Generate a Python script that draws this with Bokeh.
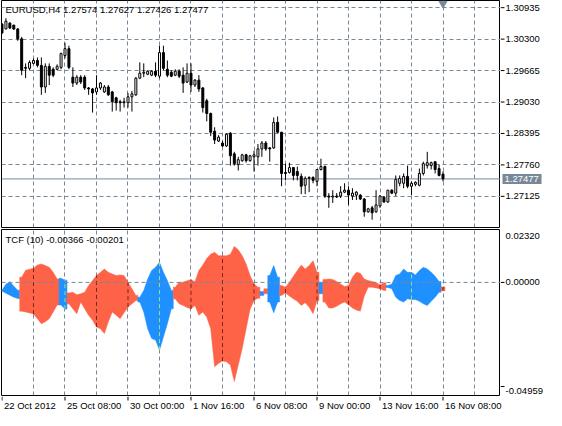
import numpy as np
from bokeh.plotting import figure
from bokeh.layouts import column, row
from bokeh.models import Range1d, FixedTicker, Label, Span, Grid, ColumnDataSource
from bokeh.core.properties import value
from bokeh.embed import file_html
from bokeh.resources import INLINE

# ---------------- data ----------------
symbol_title = "EURUSD,H4 1.27574 1.27627 1.27426 1.27477"
tcf_title = "TCF (10) -0.00366 -0.00201"

opens = [1.30603, 1.30504, 1.30623, 1.30584, 1.30504, 1.30306, 1.29730, 1.29710, 1.29810, 1.29869,
         1.29770, 1.29333, 1.29750, 1.29691, 1.29691, 1.29730, 1.29968, 1.30107, 1.29532, 1.29413,
         1.29532, 1.29532, 1.29314, 1.29294, 1.29234, 1.29314, 1.29234, 1.29333, 1.29234, 1.29115,
         1.29036, 1.29016, 1.29016, 1.29135, 1.29175, 1.29512, 1.29611, 1.29591, 1.29572, 1.29651,
         1.29552, 1.30028, 1.29691, 1.29631, 1.29572, 1.29651, 1.29572, 1.29433, 1.29611, 1.29373,
         1.29472, 1.29314, 1.29056, 1.28798, 1.28440, 1.28242, 1.28202, 1.28143, 1.28401, 1.27984,
         1.27766, 1.27845, 1.27964, 1.27845, 1.27924, 1.27924, 1.28083, 1.28202, 1.28103, 1.28103,
         1.28619, 1.28421, 1.27607, 1.27607, 1.27706, 1.27627, 1.27528, 1.27349, 1.27488, 1.27508,
         1.27428, 1.27667, 1.27726, 1.27131, 1.27111, 1.27131, 1.27131, 1.27210, 1.27250, 1.27131,
         1.27151, 1.27151, 1.27071, 1.26813, 1.26893, 1.26813, 1.26932, 1.27111, 1.27012, 1.27250,
         1.27190, 1.27389, 1.27389, 1.27528, 1.27329, 1.27369, 1.27349, 1.27587, 1.27746, 1.27746,
         1.27825, 1.27686, 1.27574]
highs = [1.30623, 1.30722, 1.30643, 1.30584, 1.30524, 1.30345, 1.29810, 1.29869, 1.29909, 1.29929,
         1.29929, 1.29810, 1.29810, 1.29730, 1.29790, 1.30028, 1.30226, 1.30167, 1.29730, 1.29572,
         1.29572, 1.29572, 1.29333, 1.29314, 1.29572, 1.29433, 1.29373, 1.29373, 1.29254, 1.29135,
         1.29075, 1.29115, 1.29214, 1.29254, 1.29532, 1.29830, 1.29810, 1.29671, 1.29671, 1.29830,
         1.30167, 1.30167, 1.29869, 1.29671, 1.29691, 1.29691, 1.29730, 1.29810, 1.29810, 1.29492,
         1.29572, 1.29333, 1.29095, 1.28817, 1.28520, 1.28361, 1.28242, 1.28401, 1.28421, 1.28024,
         1.27924, 1.27984, 1.27984, 1.27964, 1.28044, 1.28182, 1.28242, 1.28242, 1.28123, 1.28718,
         1.28738, 1.28421, 1.27786, 1.27805, 1.27706, 1.27726, 1.27587, 1.27528, 1.27528, 1.27528,
         1.27667, 1.27885, 1.27746, 1.27190, 1.27250, 1.27190, 1.27329, 1.27389, 1.27329, 1.27289,
         1.27230, 1.27170, 1.27091, 1.26893, 1.26932, 1.27250, 1.27151, 1.27131, 1.27250, 1.27270,
         1.27547, 1.27547, 1.27587, 1.27746, 1.27428, 1.27428, 1.27686, 1.27825, 1.28024, 1.27825,
         1.27825, 1.27766, 1.27627]
lows = [1.30405, 1.30504, 1.30504, 1.30484, 1.30266, 1.29572, 1.29512, 1.29671, 1.29790, 1.29730,
        1.29175, 1.29214, 1.29373, 1.29532, 1.29671, 1.29691, 1.29909, 1.29691, 1.29333, 1.29373,
        1.29393, 1.29274, 1.29175, 1.28817, 1.29175, 1.29274, 1.29214, 1.29155, 1.28837, 1.28857,
        1.28837, 1.28917, 1.28917, 1.28837, 1.29155, 1.29492, 1.29532, 1.29572, 1.29552, 1.29532,
        1.29512, 1.29671, 1.29532, 1.29532, 1.29552, 1.29512, 1.29214, 1.29413, 1.29234, 1.29333,
        1.29234, 1.28817, 1.28639, 1.28341, 1.28182, 1.28222, 1.28123, 1.28123, 1.27746, 1.27746,
        1.27647, 1.27825, 1.27805, 1.27825, 1.27627, 1.27746, 1.27924, 1.28044, 1.27825, 1.28083,
        1.28401, 1.27329, 1.27448, 1.27587, 1.27448, 1.27448, 1.27170, 1.27170, 1.27210, 1.27389,
        1.27329, 1.27647, 1.27091, 1.26893, 1.26992, 1.27091, 1.27091, 1.27190, 1.26952, 1.27051,
        1.27051, 1.27051, 1.26714, 1.26793, 1.26654, 1.26793, 1.26893, 1.26992, 1.26992, 1.27170,
        1.27131, 1.27329, 1.27289, 1.27289, 1.27151, 1.27329, 1.27329, 1.27547, 1.27686, 1.27667,
        1.27587, 1.27528, 1.27426]
closes = [1.30425, 1.30663, 1.30524, 1.30504, 1.30306, 1.29671, 1.29710, 1.29830, 1.29869, 1.29770,
          1.29333, 1.29750, 1.29572, 1.29572, 1.29750, 1.30008, 1.30107, 1.29730, 1.29413, 1.29532,
          1.29433, 1.29314, 1.29294, 1.29214, 1.29314, 1.29413, 1.29333, 1.29175, 1.29036, 1.29016,
          1.29016, 1.29036, 1.29135, 1.29194, 1.29512, 1.29611, 1.29631, 1.29651, 1.29651, 1.29572,
          1.30028, 1.29710, 1.29572, 1.29552, 1.29651, 1.29552, 1.29413, 1.29611, 1.29373, 1.29472,
          1.29294, 1.28917, 1.28798, 1.28421, 1.28262, 1.28321, 1.28143, 1.28381, 1.27944, 1.27786,
          1.27865, 1.27964, 1.27845, 1.27944, 1.27964, 1.28083, 1.28202, 1.28083, 1.28083, 1.28619,
          1.28421, 1.27587, 1.27587, 1.27706, 1.27547, 1.27547, 1.27329, 1.27488, 1.27508, 1.27448,
          1.27667, 1.27726, 1.27131, 1.27111, 1.27131, 1.27111, 1.27210, 1.27250, 1.27151, 1.27190,
          1.27210, 1.27071, 1.26813, 1.26873, 1.26793, 1.26952, 1.27131, 1.27012, 1.27250, 1.27190,
          1.27468, 1.27488, 1.27528, 1.27329, 1.27389, 1.27409, 1.27587, 1.27786, 1.27805, 1.27805,
          1.27667, 1.27547, 1.27477]

tcf_upper = [-0.0034, -0.0008, 0.0003, -0.0017, -0.0034,
             0.0023, 0.0053, 0.0058, 0.0062, 0.0076,
             0.0081, 0.0074, 0.0066, 0.0044, 0.0015,
             0.0018, 0.0010, -0.0046, -0.0043, -0.0054,
             -0.0050, -0.0043, -0.0014, 0.0008, 0.0030,
             0.0044, 0.0059, 0.0044, 0.0037, 0.0030,
             0.0033, 0.0030, 0.0001, -0.0028, -0.0057,
             -0.0065, -0.0035, 0.0015, 0.0052, 0.0066,
             0.0088, 0.0044, 0.0008, -0.0035, -0.0021,
             0.0001, 0.0001, 0.0007, 0.0012, 0.0003,
             0.0052, 0.0076, 0.0105, 0.0124, 0.0132,
             0.0117, 0.0117, 0.0117, 0.0124, 0.0158,
             0.0143, 0.0117, 0.0081, 0.0030, -0.0007,
             -0.0021, -0.0040, -0.0028, 0.0030, 0.0074,
             0.0023, -0.0014, -0.0021, 0.0001, 0.0027,
             0.0052, 0.0076, 0.0059, 0.0074, 0.0095,
             0.0044, 0.0001, 0.0013, 0.0015, 0.0013,
             0.0004, -0.0007, -0.0018, -0.0014, 0.0023,
             0.0044, 0.0040, 0.0015, 0.0008, 0.0004,
             -0.0002, -0.0011, -0.0002, -0.0014, -0.0007,
             0.0030, 0.0037, 0.0059, 0.0044, 0.0044,
             0.0033, 0.0052, 0.0066, 0.0059, 0.0044,
             0.0027, 0.0004, -0.00201]
tcf_lower = [-0.0038, -0.0047, -0.0056, -0.0065, -0.0071,
             -0.0126, -0.0130, -0.0134, -0.0139, -0.0159,
             -0.0181, -0.0173, -0.0159, -0.0130, -0.0099,
             -0.0099, -0.0117, -0.0094, -0.0116, -0.0137,
             -0.0086, -0.0116, -0.0144, -0.0166, -0.0195,
             -0.0203, -0.0224, -0.0173, -0.0130, -0.0144,
             -0.0159, -0.0133, -0.0108, -0.0094, -0.0079,
             -0.0086, -0.0130, -0.0203, -0.0246, -0.0253,
             -0.0297, -0.0239, -0.0181, -0.0116, -0.0072,
             -0.0094, -0.0101, -0.0110, -0.0116, -0.0101,
             -0.0144, -0.0130, -0.0152, -0.0203, -0.0370,
             -0.0355, -0.0345, -0.0348, -0.0362, -0.0435,
             -0.0362, -0.0290, -0.0203, -0.0118, -0.0079,
             -0.0069, -0.0057, -0.0050, -0.0086, -0.0133,
             -0.0086, -0.0057, -0.0046, -0.0060, -0.0072,
             -0.0083, -0.0101, -0.0089, -0.0108, -0.0137,
             -0.0079, -0.0050, -0.0086, -0.0112, -0.0112,
             -0.0104, -0.0094, -0.0086, -0.0098, -0.0112,
             -0.0121, -0.0126, -0.0060, -0.0021, -0.0021,
             -0.0024, -0.0028, -0.0035, -0.0022, -0.0028,
             -0.0065, -0.0079, -0.0086, -0.0072, -0.0075,
             -0.0075, -0.0083, -0.0094, -0.0101, -0.0083,
             -0.0065, -0.0043, -0.00366]
# +1 = blue phase, -1 = red phase
tcf_state = [1, 1, 1, 1, 1,
             -1, -1, -1, -1, -1, -1, -1, -1, -1, -1,
             1, 1,
             -1, -1, -1, -1, -1, -1, -1, -1, -1, -1, -1, -1, -1, -1, -1, -1, -1, -1,
             1, 1, 1, 1, 1, 1, 1, 1, 1,
             -1, -1, -1, -1, -1, -1, -1, -1, -1, -1, -1, -1, -1, -1, -1, -1, -1, -1, -1, -1, -1, -1,
             1,
             -1,
             1, 1, 1,
             -1, -1, -1, -1, -1, -1, -1, -1, -1, -1,
             1,
             -1, -1, -1, -1, -1, -1, -1, -1, -1, -1, -1, -1, -1, -1, -1, -1,
             1, 1, 1, 1, 1, 1, 1, 1, 1, 1, 1, 1, 1, 1,
             -1]

price_ticks = [1.30935, 1.30300, 1.29665, 1.29030, 1.28395, 1.27760, 1.27125]
last_price = 1.27477
tcf_max, tcf_min = 0.02320, -0.04959
time_tick_bars = [0, 16, 32, 48, 64, 80, 96, 112]
time_tick_labels = ["22 Oct 2012", "25 Oct 08:00", "30 Oct 00:00", "1 Nov 16:00",
                    "6 Nov 08:00", "9 Nov 00:00", "13 Nov 16:00", "16 Nov 08:00"]
grid_bars = list(range(8, 121, 8))

# ---------------- style ----------------
FONT = "Liberation Sans"
FS = "9.5px"
GRID_C = "#778899"
RED = "#FF6347"
BLUE = "#1E90FF"
MAIN_W = 500       # 1px left border + 499px frame
AXIS_W = 46
TOTAL_W = MAIN_W + AXIS_W
TOP_FRAME = 227
BOT_FRAME = 166
STRIP_H = 14
price_lo, price_hi = 1.26496, 1.31080

n = len(opens)
idx = list(range(n))
x_rng = Range1d(-0.125, 126.6)
ax_x = Range1d(0, AXIS_W)


def base(p, outline=True):
    p.outline_line_color = "black" if outline else None
    p.outline_line_width = 1
    p.background_fill_color = "white"
    p.border_fill_color = "white"
    for g in p.grid:
        g.visible = False


def vgrid(p):
    p.add_layout(Grid(dimension=0, ticker=FixedTicker(ticks=grid_bars),
                      grid_line_color=GRID_C, grid_line_dash="4 3", grid_line_width=1))


def fig(w, h, xr, yr, top, bottom, left):
    return figure(width=w, height=h, x_range=xr, y_range=yr,
                  x_axis_location=None, y_axis_location=None,
                  output_backend="svg", toolbar_location=None,
                  min_border_left=left, min_border_right=0,
                  min_border_top=top, min_border_bottom=bottom)


# ---------------- top: candles ----------------
price_rng = Range1d(price_lo, price_hi)
p1 = fig(MAIN_W, TOP_FRAME + 1, x_rng, price_rng, 0, 1, 1)
base(p1)
vgrid(p1)
p1.add_layout(Grid(dimension=1, ticker=FixedTicker(ticks=price_ticks),
                   grid_line_color=GRID_C, grid_line_dash="4 3", grid_line_width=1))
p1.add_layout(Span(location=last_price, dimension="width", line_color=GRID_C, line_width=1,
                   level="underlay"))

o = np.array(opens); h = np.array(highs); l = np.array(lows); c = np.array(closes)
bull = c >= o
csrc = ColumnDataSource(dict(x=idx, h=h, l=l, top=np.maximum(o, c), bot=np.minimum(o, c),
                             fill=["white" if b else "black" for b in bull]))
p1.segment(x0="x", y0="h", x1="x", y1="l", source=csrc, line_color="black", line_width=1)
p1.vbar(x="x", width=0.5, top="top", bottom="bot", fill_color="fill", line_color="black",
        line_width=1, source=csrc)

px_price = (price_hi - price_lo) / TOP_FRAME
p1.scatter(x=[n - 1], y=[price_hi - 3 * px_price], marker="inverted_triangle", size=8,
           fill_color=GRID_C, line_color=GRID_C)
p1.add_layout(Label(x=x_rng.start, y=price_hi, x_offset=4, y_offset=-3, text=symbol_title,
                    text_baseline="top", text_align="left", text_font=FONT, text_font_size=FS,
                    text_color="black"))

# right price scale
a1 = fig(AXIS_W, TOP_FRAME + 1, ax_x, price_rng, 0, 1, 0)
base(a1, outline=False)
a1.segment(x0=[0] * len(price_ticks), y0=price_ticks, x1=[4] * len(price_ticks), y1=price_ticks,
           line_color="black", line_width=1)
a1.text(x=[5] * len(price_ticks), y=price_ticks, text=[f"{t:.5f}" for t in price_ticks],
        text_font=value(FONT), text_font_size=value(FS), text_color="black",
        text_baseline="middle", text_align="left")
a1.quad(left=[2], right=[41], bottom=[last_price - 5 * px_price], top=[last_price + 5 * px_price],
        fill_color=GRID_C, line_color=None)
a1.text(x=[4], y=[last_price], text=[f"{last_price:.5f}"], text_font=value(FONT),
        text_font_size=value(FS), text_color="white", text_baseline="middle", text_align="left")

# ---------------- bottom: TCF ----------------
tcf_rng = Range1d(tcf_min, tcf_max)
p2 = fig(MAIN_W, BOT_FRAME + 2, x_rng, tcf_rng, 1, 1, 1)
base(p2)
vgrid(p2)

xs_list, ys_list, cols = [], [], []
start = 0
for i in range(1, n + 1):
    if i == n or tcf_state[i] != tcf_state[start]:
        a, b = start, i - 1
        xs = [a - 0.5] + list(range(a, b + 1)) + [b + 0.5]
        tops = [tcf_upper[a]] + tcf_upper[a:b + 1] + [tcf_upper[b]]
        bots = [tcf_lower[a]] + tcf_lower[a:b + 1] + [tcf_lower[b]]
        xs_list.append(xs + xs[::-1])
        ys_list.append(tops + bots[::-1])
        cols.append(BLUE if tcf_state[a] > 0 else RED)
        start = i
p2.patches(xs_list, ys_list, fill_color=cols, line_color=cols, line_width=0.5)

gx = [g for g in grid_bars if g < n]
gsrc = ColumnDataSource(dict(x=gx, y0=[tcf_lower[g] for g in gx], y1=[tcf_upper[g] for g in gx],
                             col=["#9BE07A" if tcf_state[g] > 0 else "#7A2418" for g in gx]))
p2.segment(x0="x", y0="y0", x1="x", y1="y1", source=gsrc, line_color="col", line_dash="4 3",
           line_width=1)
p2.add_layout(Span(location=0.0, dimension="width", line_color=GRID_C, line_width=1,
                   line_dash="4 3", level="overlay"))
p2.add_layout(Label(x=x_rng.start, y=tcf_max, x_offset=4, y_offset=-4, text=tcf_title,
                    text_baseline="top", text_align="left", text_font=FONT, text_font_size=FS,
                    text_color="black"))

# right TCF scale (max/min are printed just inside the window edges)
px_tcf = (tcf_max - tcf_min) / BOT_FRAME
tcf_label_y = [tcf_max - 6 * px_tcf, 0.0, tcf_min + 5 * px_tcf]
tcf_label_txt = [f"{tcf_max:.5f}", "0.00000", f"{tcf_min:.5f}"]
a2 = fig(AXIS_W, BOT_FRAME + 2, ax_x, tcf_rng, 1, 1, 0)
base(a2, outline=False)
a2.segment(x0=[0, 0], y0=[0.0, tcf_min + 9 * px_tcf], x1=[4, 4], y1=[0.0, tcf_min + 9 * px_tcf],
           line_color="black", line_width=1)
a2.text(x=[5] * 3, y=tcf_label_y, text=tcf_label_txt, text_font=value(FONT),
        text_font_size=value(FS), text_color="black", text_baseline="middle", text_align="left")

# ---------------- time strip (full width so the last label is not cut) ----------------
bar_px = (x_rng.end - x_rng.start) / (MAIN_W - 1)
strip_x = Range1d(x_rng.start, x_rng.start + bar_px * (TOTAL_W - 1))
p3 = fig(TOTAL_W, STRIP_H, strip_x, Range1d(0, STRIP_H), 0, 0, 1)
base(p3, outline=False)
p3.segment(x0=time_tick_bars, y0=[STRIP_H] * len(time_tick_bars), x1=time_tick_bars,
           y1=[STRIP_H - 4] * len(time_tick_bars), line_color="black", line_width=1)
p3.text(x=time_tick_bars, y=[STRIP_H - 3.5] * len(time_tick_bars), text=time_tick_labels,
        x_offset=2, text_font=value(FONT), text_font_size=value(FS), text_color="black",
        text_baseline="top", text_align="left")

layout = column(row(p1, a1, spacing=0), row(p2, a2, spacing=0), p3, spacing=0)
open("out.html", "w").write(file_html(layout, INLINE, title="EURUSD H4 TCF"))
